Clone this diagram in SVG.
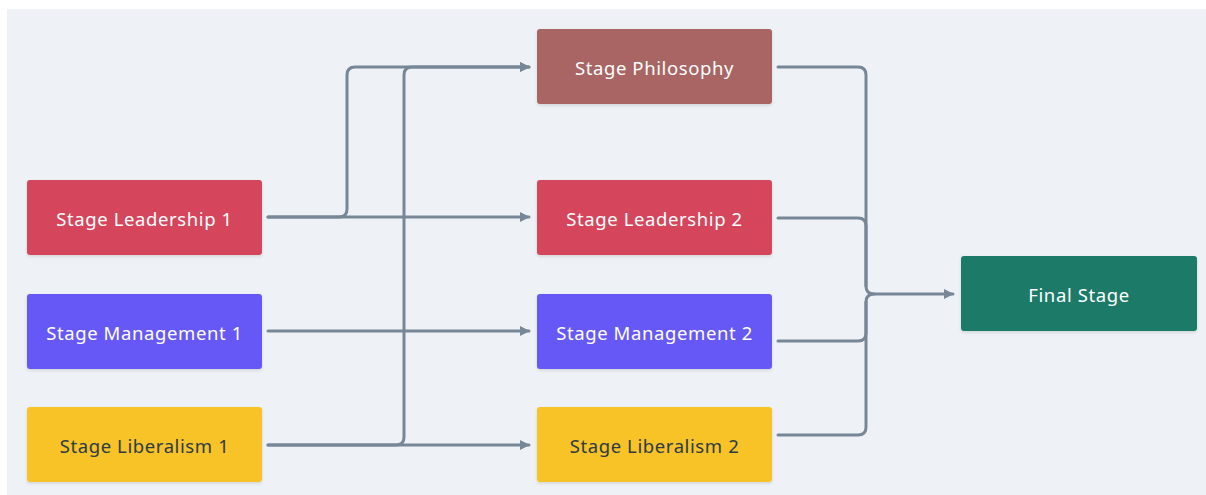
<svg xmlns="http://www.w3.org/2000/svg" width="1206" height="495" viewBox="0 0 1206 495">
  <style>
    .node rect { stroke: none; filter: url(#shadow); }
    .label { font-family: "Noto Sans", "DejaVu Sans", sans-serif; font-size: 18.5px; letter-spacing: 0.6px; text-anchor: middle; dominant-baseline: central; fill: #ffffff; }
    .label.dark { fill: #2e3a48; }
    .edge { fill: none; stroke: #778797; stroke-width: 3; stroke-linecap: round; stroke-linejoin: round; }
  </style>
  <defs>
    <filter id="shadow" x="-10%" y="-20%" width="120%" height="150%">
      <feDropShadow dx="0" dy="1.5" stdDeviation="1.5" flood-color="#000" flood-opacity="0.12"/>
    </filter>
    <marker id="arrow" viewBox="0 0 10 10" refX="9" refY="5" markerWidth="10" markerHeight="10" markerUnits="userSpaceOnUse" orient="auto">
      <path d="M0,0 L10,5 L0,10 Z" fill="#778797"/>
    </marker>
  </defs>

  <!-- canvas -->
  <rect x="7" y="9" width="1199" height="486" fill="#eef2f6"/>

  <!-- connectors -->
  <g id="connectors">
    <path class="edge" marker-end="url(#arrow)" d="M268,217 H529"/>
    <path class="edge" marker-end="url(#arrow)" d="M268,217 H339 Q347,217 347,209 V75 Q347,67 355,67 H529"/>
    <path class="edge" marker-end="url(#arrow)" d="M268,331 H529"/>
    <path class="edge" marker-end="url(#arrow)" d="M268,445 H529"/>
    <path class="edge" marker-end="url(#arrow)" d="M268,445 H396 Q404,445 404,437 V75 Q404,67 412,67 H529"/>

    <path class="edge" marker-end="url(#arrow)" d="M778,67 H858 Q866,67 866,75 V286 Q866,294 874,294 H953"/>
    <path class="edge" d="M778,218 H858 Q866,218 866,226 V286"/>
    <path class="edge" d="M778,341 H858 Q866,341 866,333 V302 Q866,294 874,294"/>
    <path class="edge" d="M778,435 H858 Q866,435 866,427 V302"/>
  </g>

  <!-- nodes -->
  <g id="stage-leadership-1" class="node">
    <rect x="27" y="180" width="235" height="75" rx="3" fill="#d5455b"/>
    <text class="label" x="144.5" y="218">Stage Leadership 1</text>
  </g>
  <g id="stage-management-1" class="node">
    <rect x="27" y="294" width="235" height="75" rx="3" fill="#6659f7"/>
    <text class="label" x="144.5" y="332">Stage Management 1</text>
  </g>
  <g id="stage-liberalism-1" class="node">
    <rect x="27" y="407" width="235" height="75" rx="3" fill="#f7c325"/>
    <text class="label dark" x="144.5" y="445">Stage Liberalism 1</text>
  </g>

  <g id="stage-philosophy" class="node">
    <rect x="537" y="29" width="235" height="75" rx="3" fill="#a96563"/>
    <text class="label" x="654.5" y="67">Stage Philosophy</text>
  </g>
  <g id="stage-leadership-2" class="node">
    <rect x="537" y="180" width="235" height="75" rx="3" fill="#d5455b"/>
    <text class="label" x="654.5" y="218">Stage Leadership 2</text>
  </g>
  <g id="stage-management-2" class="node">
    <rect x="537" y="294" width="235" height="75" rx="3" fill="#6659f7"/>
    <text class="label" x="654.5" y="332">Stage Management 2</text>
  </g>
  <g id="stage-liberalism-2" class="node">
    <rect x="537" y="407" width="235" height="75" rx="3" fill="#f7c325"/>
    <text class="label dark" x="654.5" y="445">Stage Liberalism 2</text>
  </g>

  <g id="final-stage" class="node">
    <rect x="961" y="256" width="236" height="75" rx="3" fill="#1f7a68"/>
    <text class="label" x="1079" y="294">Final Stage</text>
  </g>
</svg>
